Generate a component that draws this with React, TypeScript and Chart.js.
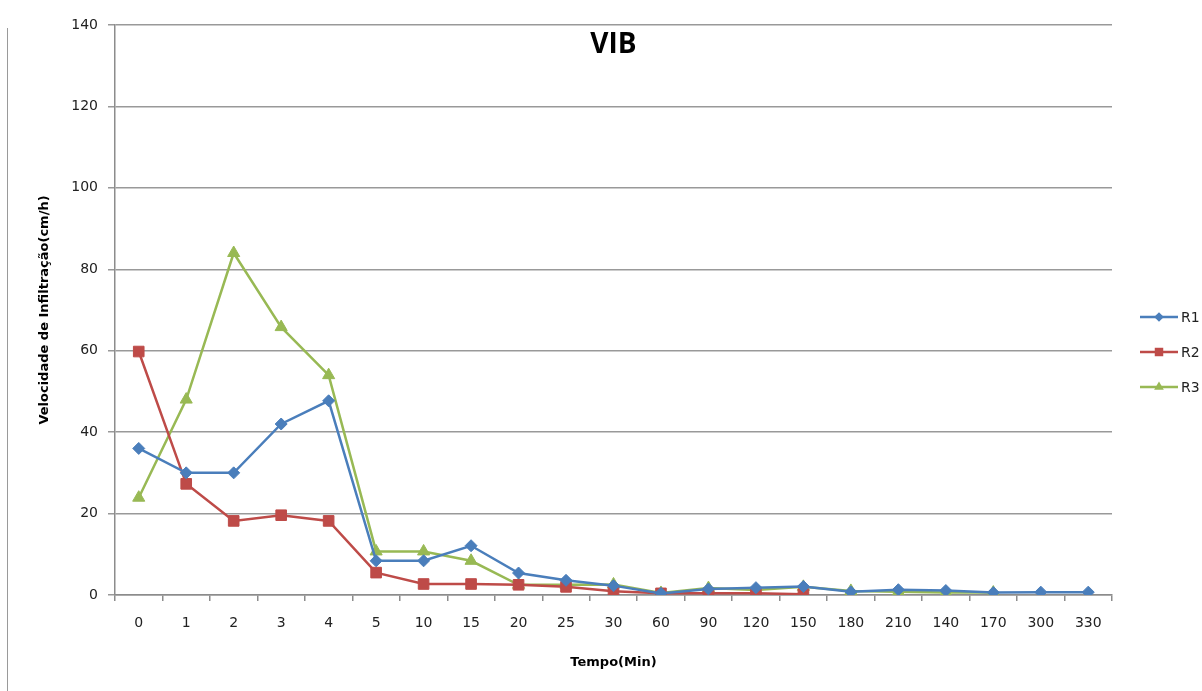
import React, { useEffect, useRef } from "react";
import { Chart, registerables } from "chart.js";

Chart.register(...registerables);

const categories = ["0", "1", "2", "3", "4", "5", "10", "15", "20", "25", "30", "60", "90", "120", "150", "180", "210", "140", "170", "300", "330"];
const r1Values = [36, 30, 30, 42, 47.7, 8.4, 8.4, 12.1, 5.4, 3.6, 2.3, 0.4, 1.5, 1.8, 2.1, 0.8, 1.3, 1.1, 0.6, 0.7, 0.7];
const r2Values = [59.8, 27.3, 18.2, 19.6, 18.2, 5.5, 2.7, 2.7, 2.5, 2.0, 0.9, 0.4, 0.4, 0.4, 0.2, null, null, null, null, null, null];
const r3Values = [23.9, 48, 84, 65.8, 54, 10.7, 10.7, 8.4, 2.5, 2.5, 2.6, 0.5, 1.7, 1.2, 2.0, 1.0, 0.8, 0.6, 0.6, null, null];
const seriesNames = ["R1", "R2", "R3"];
const seriesColors = ["#4A7EBB", "#BE4B48", "#98B954"];
const seriesMarkers = ["rectRot", "rect", "triangle"];
const markerRadius = [6, 7.5, 7];

const TICK_FONT = "'DejaVu Sans', sans-serif";

function drawMarker(ctx: CanvasRenderingContext2D, style: string, r: number, x: number, y: number) {
  ctx.beginPath();
  if (style === "rectRot") {
    ctx.moveTo(x, y - r);
    ctx.lineTo(x + r, y);
    ctx.lineTo(x, y + r);
    ctx.lineTo(x - r, y);
  } else if (style === "rect") {
    const h = r * Math.SQRT1_2;
    ctx.rect(x - h, y - h, 2 * h, 2 * h);
  } else {
    const a = (Math.PI * 2) / 3;
    for (let k = 0; k < 3; k++) {
      const ang = -Math.PI / 2 + k * a;
      const px = x + Math.cos(ang) * r;
      const py = y + Math.sin(ang) * r;
      if (k === 0) ctx.moveTo(px, py);
      else ctx.lineTo(px, py);
    }
  }
  ctx.closePath();
  ctx.fill();
}

const extrasPlugin = {
  id: "extras",
  afterDraw(chart: any) {
    const { ctx, chartArea } = chart;
    ctx.save();
    ctx.fillStyle = "#000";
    ctx.font = "bold 28px 'Open Sans', sans-serif";
    ctx.textAlign = "center";
    ctx.textBaseline = "middle";
    ctx.fillText("VIB", (chartArea.left + chartArea.right) / 2, 45);
    const ys = [317, 352, 387];
    seriesNames.forEach((name, i) => {
      const y = ys[i];
      ctx.strokeStyle = seriesColors[i];
      ctx.lineWidth = 2.5;
      ctx.beginPath();
      ctx.moveTo(1140, y);
      ctx.lineTo(1178, y);
      ctx.stroke();
      ctx.fillStyle = seriesColors[i];
      drawMarker(ctx, seriesMarkers[i], markerRadius[i] * 0.8, 1159, y);
      ctx.fillStyle = "#222";
      ctx.font = `14px ${TICK_FONT}`;
      ctx.textAlign = "left";
      ctx.textBaseline = "middle";
      ctx.fillText(name, 1181, y + 1);
    });
    ctx.restore();
  },
};

export default function App() {
  const ref = useRef<HTMLCanvasElement | null>(null);
  useEffect(() => {
    if (!ref.current) return;
    const dataArrays = [r1Values, r2Values, r3Values];
    const chart = new Chart(ref.current, {
      type: "line",
      data: {
        labels: categories,
        datasets: dataArrays.map((d, i) => ({
          label: seriesNames[i],
          data: d,
          borderColor: seriesColors[i],
          backgroundColor: seriesColors[i],
          borderWidth: 2.5,
          pointStyle: seriesMarkers[i] as any,
          pointRadius: markerRadius[i],
          pointBorderWidth: 1,
          pointBorderColor: seriesColors[i],
          pointBackgroundColor: seriesColors[i],
          tension: 0,
          spanGaps: false,
        })),
      },
      options: {
        animation: false,
        responsive: false,
        layout: { padding: { left: 0, right: 90, top: 25, bottom: 0 } },
        plugins: {
          legend: { display: false },
          title: { display: false },
          tooltip: { enabled: false },
        },
        scales: {
          x: {
            type: "category",
            offset: true,
            afterFit: (scale: any) => {
              scale.height = 96;
            },
            grid: {
              offset: true,
              drawOnChartArea: false,
              drawTicks: true,
              tickLength: 6,
              color: "#8c8c8c",
              lineWidth: 1.5,
            },
            border: { display: true, color: "#8c8c8c", width: 1.5 },
            ticks: {
              color: "#222",
              font: { family: TICK_FONT, size: 14 },
              padding: 14,
              maxRotation: 0,
              autoSkip: false,
            },
            title: {
              display: true,
              text: "Tempo(Min)",
              color: "#000",
              font: { family: TICK_FONT, size: 13, weight: "bold" },
              padding: { top: 0, bottom: 21 },
            },
          },
          y: {
            min: 0,
            max: 140,
            afterFit: (scale: any) => {
              scale.width = 115;
            },
            ticks: {
              stepSize: 20,
              color: "#222",
              font: { family: TICK_FONT, size: 14 },
              padding: 10,
            },
            grid: {
              color: "#999",
              lineWidth: 1.5,
              tickLength: 7,
            },
            border: { display: true, color: "#8c8c8c", width: 1.5 },
            title: {
              display: true,
              text: "Velocidade de Infiltração(cm/h)",
              color: "#000",
              font: { family: TICK_FONT, size: 13, weight: "bold" },
              padding: { top: 37, bottom: 0 },
            },
          },
        },
      },
      plugins: [extrasPlugin],
    });
    return () => chart.destroy();
  }, []);

  return (
    <div style={{ position: "fixed", left: 0, top: 0, width: 1202, height: 691, background: "#fff" }}>
      <div style={{ position: "absolute", left: 7, top: 28, width: 1, height: 663, background: "#9a9a9a" }} />
      <canvas ref={ref} width={1202} height={691} style={{ position: "absolute", left: 0, top: 0 }} />
    </div>
  );
}
